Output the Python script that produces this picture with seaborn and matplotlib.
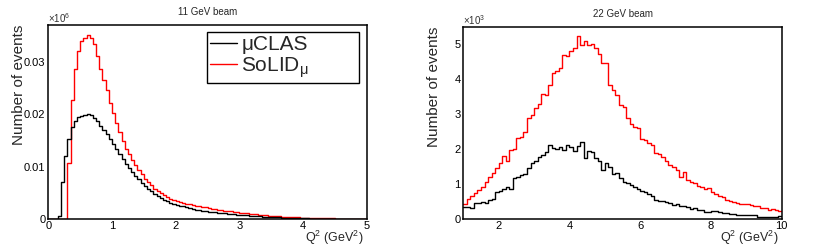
import numpy as np
import pandas as pd
import seaborn as sns
from matplotlib import pyplot as plt
from matplotlib.lines import Line2D

# --- data (bin contents) ---
# 11 GeV beam: 100 bins 0..5 GeV^2, values in units of 10^6 events
range_11 = (0, 5)
muclas_11 = [
    0, 0, 0, 0.0006, 0.0070, 0.0121, 0.0153, 0.0175, 0.0186, 0.0194,
    0.0197, 0.0199, 0.0201, 0.0198, 0.0192, 0.0186, 0.0178, 0.0170, 0.0162, 0.0153,
    0.0143, 0.0133, 0.0124, 0.0114, 0.0105, 0.0097, 0.0090, 0.0082, 0.0076, 0.0069,
    0.0063, 0.0058, 0.0053, 0.0048, 0.0044, 0.0040, 0.0037, 0.0034, 0.0031, 0.0029,
    0.0027, 0.0025, 0.0024, 0.0022, 0.0021, 0.0020, 0.0018, 0.0017, 0.0016, 0.0015,
    0.0014, 0.0013, 0.0013, 0.0012, 0.0011, 0.0011, 0.0010, 0.0009, 0.0009, 0.0008,
    0.0008, 0.0007, 0.0007, 0.0006, 0.0006, 0.0005, 0.0005, 0.0004, 0.0004, 0.0004,
    0.0003, 0.0003, 0.0003, 0.0002, 0.0002, 0.0002, 0.0002, 0.0001, 0.0001, 0.0001,
    0.0001, 0.0001, 0.00005, 0.00005, 0.00005, 0.00003, 0.00003, 0.00002, 0.00002, 0.00001,
    0.00001, 0.00001, 0, 0, 0, 0, 0, 0, 0, 0,
]
solid_11 = [
    0, 0, 0, 0, 0, 0, 0.0106, 0.0227, 0.0287, 0.0321,
    0.0340, 0.0345, 0.0350, 0.0345, 0.0334, 0.0310, 0.0287, 0.0266, 0.0246, 0.0221,
    0.0202, 0.0183, 0.0165, 0.0148, 0.0133, 0.0124, 0.0113, 0.0103, 0.0093, 0.0085,
    0.0077, 0.0070, 0.0064, 0.0058, 0.0053, 0.0049, 0.0045, 0.0041, 0.0038, 0.0036,
    0.0034, 0.0033, 0.0031, 0.0029, 0.0028, 0.0027, 0.0025, 0.0024, 0.0023, 0.0022,
    0.0021, 0.0020, 0.0019, 0.0018, 0.0017, 0.0016, 0.0016, 0.0015, 0.0014, 0.0013,
    0.0012, 0.0011, 0.0011, 0.0010, 0.0009, 0.0009, 0.0008, 0.0007, 0.0007, 0.0006,
    0.0006, 0.0005, 0.0005, 0.0004, 0.0004, 0.0004, 0.0003, 0.0003, 0.0003, 0.0002,
    0.0002, 0.0002, 0.0002, 0.00015, 0.00015, 0.00012, 0.00012, 0.0001, 0.0001, 0.0001,
    0.00008, 0.00008, 0.00007, 0.00006, 0.00006, 0.00005, 0.00005, 0.00004, 0.00004, 0.00003,
]

# 22 GeV beam: 90 bins 1..10 GeV^2, values in units of 10^3 events
range_22 = (1, 10)
muclas_22 = [
    0.35, 0.33, 0.30, 0.45, 0.46, 0.48, 0.47, 0.55, 0.58, 0.78,
    0.80, 0.86, 0.92, 0.85, 1.17, 1.19, 1.25, 1.30, 1.45, 1.60,
    1.66, 1.78, 1.83, 1.92, 2.11, 2.02, 2.00, 2.05, 1.97, 2.11,
    2.06, 1.95, 2.08, 2.21, 1.75, 1.95, 1.92, 1.73, 1.66, 1.40,
    1.59, 1.49, 1.30, 1.32, 1.16, 1.07, 1.02, 0.97, 0.92, 0.85,
    0.81, 0.78, 0.71, 0.67, 0.54, 0.52, 0.51, 0.48, 0.45, 0.40,
    0.42, 0.38, 0.36, 0.34, 0.29, 0.30, 0.26, 0.25, 0.19, 0.20,
    0.24, 0.23, 0.21, 0.17, 0.16, 0.15, 0.15, 0.12, 0.12, 0.10,
    0.10, 0.11, 0.11, 0.07, 0.07, 0.06, 0.06, 0.06, 0.07, 0.09,
]
solid_22 = [
    0.42, 0.58, 0.66, 0.74, 0.84, 0.92, 1.05, 1.20, 1.32, 1.45,
    1.60, 1.80, 1.65, 1.98, 1.99, 2.31, 2.35, 2.50, 2.90, 2.97,
    3.18, 3.30, 3.56, 3.54, 3.82, 4.18, 4.22, 4.32, 4.70, 4.66,
    4.80, 4.90, 5.23, 4.97, 5.08, 4.98, 5.00, 4.88, 4.73, 4.45,
    4.45, 3.83, 3.69, 3.54, 3.26, 3.21, 2.88, 2.73, 2.64, 2.59,
    2.30, 2.26, 2.16, 2.11, 1.89, 1.87, 1.76, 1.67, 1.55, 1.50,
    1.40, 1.20, 1.33, 1.12, 1.07, 1.02, 0.95, 0.91, 0.86, 0.88,
    0.78, 0.71, 0.66, 0.62, 0.54, 0.51, 0.50, 0.47, 0.44, 0.43,
    0.42, 0.39, 0.37, 0.36, 0.32, 0.31, 0.27, 0.29, 0.25, 0.23,
]

labels = ["μCLAS", "SoLID$_{\\mathrm{μ}}$"]
colors = {labels[0]: "black", labels[1]: "red"}

sns.set_style("white")
plt.rcParams["font.family"] = ["Liberation Sans", "DejaVu Sans"]
plt.rcParams["mathtext.fontset"] = "custom"
plt.rcParams["mathtext.rm"] = "Liberation Sans"
plt.rcParams["mathtext.it"] = "Liberation Sans:italic"


def to_df(rng, a, b):
    edges = np.linspace(rng[0], rng[1], len(a) + 1)
    centers = 0.5 * (edges[:-1] + edges[1:])
    return pd.DataFrame({
        "q2": np.concatenate([centers, centers]),
        "events": np.concatenate([a, b]),
        "setup": [labels[0]] * len(a) + [labels[1]] * len(b),
    })


fig = plt.figure(figsize=(8.3, 2.46), dpi=100)
ax1 = fig.add_axes([0.0582, 0.1098, 0.3836, 0.7886])
ax2 = fig.add_axes([0.5582, 0.1098, 0.3836, 0.7805])

panels = [
    (ax1, range_11, muclas_11, solid_11, "11 GeV beam", (0, 0.037),
     [0, 1, 2, 3, 4, 5], [0, 0.01, 0.02, 0.03], ["0", "0.01", "0.02", "0.03"], "6"),
    (ax2, range_22, muclas_22, solid_22, "22 GeV beam", (0, 5.49),
     [2, 4, 6, 8, 10], [0, 1, 2, 3, 4, 5], ["0", "1", "2", "3", "4", "5"], "3"),
]

for ax, rng, a, b, title, yl, xt, yt, ytl, expo in panels:
    df = to_df(rng, a, b)
    sns.histplot(data=df, x="q2", weights="events", hue="setup", bins=len(a),
                 binrange=rng, element="step", fill=False, palette=colors,
                 legend=False, linewidth=1.0, ax=ax)
    ax.set_xlim(*rng)
    ax.set_ylim(*yl)
    ax.set_xticks(xt)
    ax.set_xticklabels([str(t) for t in xt])
    ax.set_yticks(yt)
    ax.set_yticklabels(ytl)
    ax.tick_params(direction="in", labelsize=8, colors="black", pad=2)
    ax.tick_params(axis="y", length=6)
    ax.tick_params(axis="x", length=4, pad=1.5)
    for s in ax.spines.values():
        s.set_color("black")
        s.set_linewidth(1.1)
    ax.set_title(title, fontsize=7, pad=7)
    ax.set_ylabel("Number of events", fontsize=11, loc="top")
    ax.yaxis.set_label_coords(-0.07, 1.0)
    ax.set_xlabel("Q$^{2}$ (GeV$^{2}$)", fontsize=9, loc="right")
    ax.xaxis.set_label_coords(0.99, -0.052)
    ax.text(0.0, 1.0, "$\\times$10$^{%s}$" % expo, transform=ax.transAxes,
            fontsize=7, ha="left", va="bottom", color="#333333")

handles = [Line2D([], [], color=colors[l], linewidth=1.0) for l in labels]
ax1.legend(handles, labels, loc="upper left", bbox_to_anchor=(0.498, 0.706, 0.478, 0.258),
           mode="expand", fontsize=15, frameon=True, fancybox=False, edgecolor="black",
           framealpha=1, borderpad=0.15, labelspacing=0.05, handlelength=1.3,
           handletextpad=0.2, borderaxespad=0)

fig.savefig("out.png", dpi=100)
